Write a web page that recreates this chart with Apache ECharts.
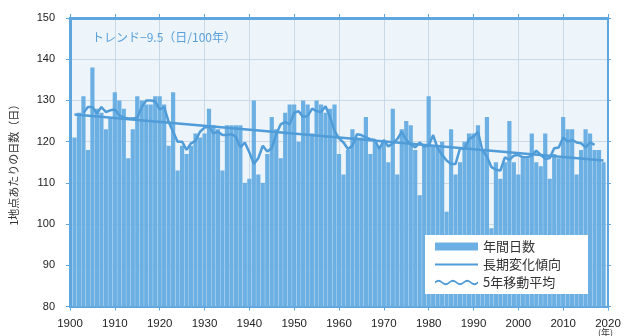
<!DOCTYPE html>
<html>
<head>
<meta charset="utf-8">
<script src="https://cdn.jsdelivr.net/npm/echarts@6/dist/echarts.min.js"></script>
<style>
  html, body { margin: 0; padding: 0; background: #fff; }
  #chart { width: 625px; height: 336px; }
</style>
</head>
<body>
<div id="chart"></div>
<script>
// Annual number of days per station, 1901-2019
const firstYear = 1901;
const annualDays = [
  121, 127, 131, 118, 138, 128, 127, 123, 126, 132, // 1901-1910
  130, 128, 116, 123, 131, 130, 129, 129, 131, 131, // 1911-1920
  129, 119, 132, 113, 119, 117, 119, 122, 121, 122, // 1921-1930
  128, 124, 123, 113, 124, 124, 124, 124, 110, 111, // 1931-1940
  130, 112, 110, 117, 126, 123, 116, 127, 129, 129, // 1941-1950
  120, 130, 129, 122, 130, 129, 127, 128, 129, 117, // 1951-1960
  112, 118, 123, 121, 121, 126, 117, 120, 119, 120, // 1961-1970
  115, 128, 112, 123, 125, 124, 118, 107, 119, 131, // 1971-1980
  119, 119, 120, 103, 123, 112, 115, 120, 122, 122, // 1981-1990
  124, 118, 126,  99, 115, 111, 115, 125, 115, 112, // 1991-2000
  116, 116, 122, 115, 114, 122, 111, 117, 116, 126, // 2001-2010
  123, 123, 112, 118, 123, 122, 118, 118, 115       // 2011-2019
];

// Long-term trend line (end points)
const trendYears = [1901, 2019];
const trendValues = [126.6, 115.4];

// Axis ticks
const xTicks = [1900, 1910, 1920, 1930, 1940, 1950, 1960, 1970, 1980, 1990, 2000, 2010, 2020];
const yTicks = [80, 90, 100, 110, 120, 130, 140, 150];

const trendLabel = 'トレンド−9.5（日/100年）';
const yAxisName = '1地点あたりの日数（日）';
const legendNames = ['年間日数', '長期変化傾向', '5年移動平均'];

const years = annualDays.map((_, i) => firstYear + i);
const barData = annualDays.map((v, i) => [years[i], v]);

// centred 5-year running mean
const movingAvg = [];
for (let i = 2; i < annualDays.length - 2; i++) {
  let s = 0;
  for (let k = -2; k <= 2; k++) s += annualDays[i + k];
  movingAvg.push([years[i], +(s / 5).toFixed(2)]);
}
const trendData = trendYears.map((y, i) => [y, trendValues[i]]);

const barColor = '#6cb0e3';
const lineColor = '#4f9cd8';
const frameColor = '#5ea6dd';
const gridColor = '#cbd9e6';
const numFont = 'Liberation Sans, Arial, sans-serif';
const jpFont = 'Noto Sans CJK JP, sans-serif';

// legend icons: a thin straight stroke and a wavy stroke inside an 43x8 box
const straightPath = 'path://M0,0 L0.01,0 M0,3.1 L43,3.1 L43,4.9 L0,4.9 Z M43,8 L42.99,8';
const wavePath = 'path://M0,0 L0.01,0 M0,3 Q3.5,-0.6 7,3 T14,3 T21,3 T28,3 T35,3 T42,3 L42,5 Q38.5,8.6 35,5 T28,5 T21,5 T14,5 T7,5 T0,5 Z M42,8 L41.99,8';

const chart = echarts.init(document.getElementById('chart'), null, { renderer: 'canvas' });
chart.setOption({
  animation: false,
  backgroundColor: '#ffffff',
  title: {
    text: trendLabel,
    left: 87,
    top: 26,
    textStyle: { fontSize: 12, color: '#5aa0da', fontWeight: 'normal', fontFamily: jpFont }
  },
  grid: {
    left: 69, right: 17, top: 18, bottom: 29.5,
    show: true, backgroundColor: '#edf4fa', borderWidth: 0
  },
  legend: {
    orient: 'vertical',
    left: 425, top: 235,
    padding: [5, 27, 5, 10],
    itemGap: 5,
    itemWidth: 43,
    itemHeight: 8,
    symbolKeepAspect: false,
    backgroundColor: '#ffffff',
    textStyle: { fontSize: 13, color: '#333', fontFamily: jpFont },
    data: [
      { name: legendNames[0], icon: 'rect' },
      { name: legendNames[1], icon: straightPath },
      { name: legendNames[2], icon: wavePath }
    ]
  },
  xAxis: [
    {
      type: 'value', min: xTicks[0], max: xTicks[xTicks.length - 1], interval: 10,
      axisLine: { show: true, lineStyle: { color: frameColor, width: 2 } },
      axisTick: { show: true, inside: false, length: 4, lineStyle: { color: frameColor, width: 1 } },
      axisLabel: { fontSize: 11.5, color: '#222', margin: 11, fontFamily: numFont, formatter: v => String(v) },
      splitLine: { show: true, lineStyle: { color: gridColor, width: 1 } }
    },
    {
      type: 'value', position: 'top', min: xTicks[0], max: xTicks[xTicks.length - 1], interval: 10,
      axisLine: { show: true, lineStyle: { color: frameColor, width: 3 } },
      axisTick: { show: true, inside: false, length: 4, lineStyle: { color: frameColor, width: 1 } },
      axisLabel: { show: false },
      splitLine: { show: false }
    }
  ],
  yAxis: [
    {
      type: 'value', min: yTicks[0], max: yTicks[yTicks.length - 1], interval: 10,
      name: yAxisName,
      nameLocation: 'middle',
      nameGap: 51,
      nameTextStyle: { fontSize: 11, color: '#333', fontFamily: jpFont },
      axisLine: { show: true, lineStyle: { color: frameColor, width: 3 } },
      axisTick: { show: true, inside: false, length: 4, lineStyle: { color: frameColor, width: 1 } },
      axisLabel: { fontSize: 11, color: '#222', margin: 15, fontFamily: numFont },
      splitLine: { show: true, lineStyle: { color: gridColor, width: 1 } }
    },
    {
      type: 'value', position: 'right', min: yTicks[0], max: yTicks[yTicks.length - 1], interval: 10,
      axisLine: { show: true, lineStyle: { color: frameColor, width: 2 } },
      axisTick: { show: true, inside: false, length: 3, lineStyle: { color: frameColor, width: 1 } },
      axisLabel: { show: false },
      splitLine: { show: false }
    }
  ],
  graphic: [
    {
      type: 'text', left: 598, top: 328,
      style: { text: '(年)', fontSize: 9, fill: '#333', fontFamily: jpFont }
    }
  ],
  series: [
    {
      name: legendNames[0],
      type: 'bar',
      data: barData,
      barWidth: 4.2,
      itemStyle: { color: barColor },
      z: 2
    },
    {
      name: legendNames[1],
      type: 'line',
      data: trendData,
      symbol: 'none',
      lineStyle: { color: lineColor, width: 2.5 },
      itemStyle: { color: lineColor },
      z: 3
    },
    {
      name: legendNames[2],
      type: 'line',
      data: movingAvg,
      symbol: 'none',
      lineStyle: { color: lineColor, width: 2.5 },
      itemStyle: { color: lineColor },
      z: 4
    }
  ]
});
</script>
</body>
</html>
